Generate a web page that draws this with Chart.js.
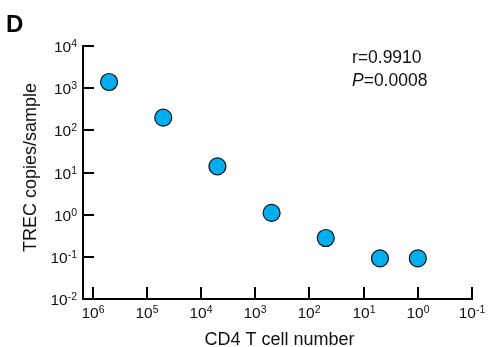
<!DOCTYPE html>
<html>
<head>
<meta charset="utf-8">
<script src="https://cdn.jsdelivr.net/npm/chart.js"></script>
<style>
  html, body { margin: 0; padding: 0; background: #fff; }
  #wrap { width: 488px; height: 347px; }
</style>
</head>
<body>
<div id="wrap"><canvas id="myChart" width="488" height="347"></canvas></div>
<script>
// data
const cellNumber = [5e5, 5e4, 5e3, 500, 50, 5, 1];
const trecCopies = [1400, 200, 14, 1.1, 0.28, 0.092, 0.092];

// decade ticks (exponents of 10)
const xTickExps = [6, 5, 4, 3, 2, 1, 0, -1];
const yTickExps = [4, 3, 2, 1, 0, -1, -2];

const xTitle = 'CD4 T cell number';
const yTitle = 'TREC copies/sample';
const panelLabel = 'D';
const rText = 'r=0.9910';
const pValue = '=0.0008';

const FONT = '"Liberation Sans", Arial, sans-serif';

// draws ticks, superscript labels, titles and annotation
const decor = {
  id: 'decor',
  afterDraw(chart) {
    const ctx = chart.ctx;
    const xs = chart.scales.x, ys = chart.scales.y;
    const area = chart.chartArea;
    ctx.save();
    ctx.strokeStyle = '#000';
    ctx.fillStyle = '#111';
    ctx.lineWidth = 2;

    // y ticks
    yTickExps.forEach(e => {
      const py = Math.round(ys.getPixelForValue(Math.pow(10, e)));
      if (e !== yTickExps[yTickExps.length - 1]) {
        ctx.beginPath();
        ctx.moveTo(area.left, py);
        ctx.lineTo(area.left + 11, py);
        ctx.stroke();
      }
      const sup = String(e);
      ctx.font = '10.5px ' + FONT;
      ctx.textAlign = 'right';
      ctx.textBaseline = 'alphabetic';
      const sw = ctx.measureText(sup).width;
      ctx.fillText(sup, 77, py + 1);
      ctx.font = '15.5px ' + FONT;
      ctx.fillText('10', 77 - sw, py + 6);
    });

    // x ticks
    xTickExps.forEach(e => {
      const px = Math.round(xs.getPixelForValue(Math.pow(10, e)));
      ctx.beginPath();
      ctx.moveTo(px, area.bottom);
      ctx.lineTo(px, area.bottom - 12);
      ctx.stroke();
      const sup = String(e);
      ctx.font = '10.5px ' + FONT;
      const sw = ctx.measureText(sup).width;
      ctx.font = '15.5px ' + FONT;
      const bw = ctx.measureText('10').width;
      const x0 = px - (bw + sw) / 2;
      ctx.textAlign = 'left';
      ctx.fillText('10', x0, 318);
      ctx.font = '10.5px ' + FONT;
      ctx.fillText(sup, x0 + bw, 313);
    });

    // axis titles
    ctx.font = '18px ' + FONT;
    ctx.textAlign = 'center';
    ctx.fillText(xTitle, (area.left + area.right) / 2 + 2, 345);
    ctx.save();
    ctx.translate(36, (area.top + area.bottom) / 2 - 5);
    ctx.rotate(-Math.PI / 2);
    ctx.fillText(yTitle, 0, 0);
    ctx.restore();

    // panel label
    ctx.font = 'bold 24px ' + FONT;
    ctx.textAlign = 'left';
    ctx.fillStyle = '#000';
    ctx.fillText(panelLabel, 6, 32);

    // stats
    ctx.fillStyle = '#111';
    ctx.font = '17.5px ' + FONT;
    ctx.fillText(rText, 352, 63);
    ctx.font = 'italic 17.5px ' + FONT;
    ctx.fillText('P', 352, 86);
    const pw = ctx.measureText('P').width;
    ctx.font = '17.5px ' + FONT;
    ctx.fillText(pValue, 352 + pw, 86);
    ctx.restore();
  }
};

new Chart(document.getElementById('myChart'), {
  type: 'scatter',
  data: {
    datasets: [{
      data: cellNumber.map((v, i) => ({ x: v, y: trecCopies[i] })),
      backgroundColor: '#00AEEF',
      borderColor: '#111',
      borderWidth: 1.2,
      pointRadius: 8.5,
      pointHoverRadius: 8.5
    }]
  },
  options: {
    responsive: false,
    animation: false,
    events: [],
    layout: { padding: { left: 83, right: 16, top: 46, bottom: 48 } },
    plugins: { legend: { display: false }, tooltip: { enabled: false } },
    scales: {
      x: {
        type: 'logarithmic',
        reverse: true,
        min: 1e-1,
        max: Math.pow(10, 6.18),
        bounds: 'data',
        ticks: { display: false },
        grid: { display: false, drawTicks: false },
        border: { display: true, color: '#000', width: 2 },
        afterFit: s => { s.height = 0; }
      },
      y: {
        type: 'logarithmic',
        min: 1e-2,
        max: 1e4,
        bounds: 'data',
        ticks: { display: false },
        grid: { display: false, drawTicks: false },
        border: { display: true, color: '#000', width: 2 },
        afterFit: s => { s.width = 0; }
      }
    }
  },
  plugins: [decor]
});
</script>
</body>
</html>
